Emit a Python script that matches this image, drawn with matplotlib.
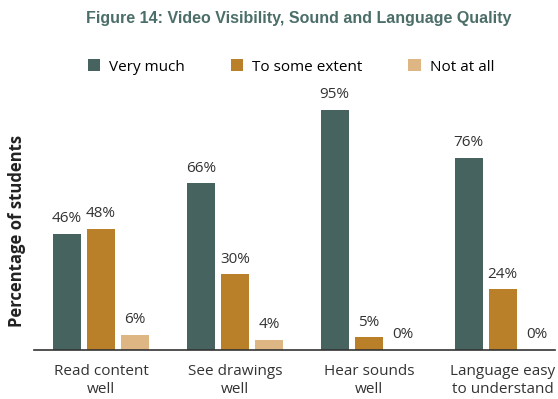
import matplotlib.pyplot as plt
import numpy as np
from matplotlib.patches import Patch

categories = ["Read content\nwell", "See drawings\nwell", "Hear sounds\nwell", "Language easy\nto understand"]
series_names = ["Very much", "To some extent", "Not at all"]
very_much = [46, 66, 95, 76]
some_extent = [48, 30, 5, 24]
not_at_all = [6, 4, 0, 0]

colors = ["#476360", "#BA8029", "#DDB684"]
font = "Open Sans"

fig = plt.figure(figsize=(5.58, 3.99), dpi=100)
W, H = 558, 399
ax = fig.add_axes([34 / W, 1 - 350 / H, (555 - 34) / W, (350 - 97.4) / H])

x = np.arange(len(categories))
width = 0.21
offset = 0.255
for i, (vals, c) in enumerate(zip([very_much, some_extent, not_at_all], colors)):
    pos = x + (i - 1) * offset
    bars = ax.bar(pos, vals, width=width, color=c)
    for b, v in zip(bars, vals):
        ax.text(b.get_x() + b.get_width() / 2, v + 3, f"{v}%", ha="center", va="bottom",
                fontsize=11, family=font, color="#333333")

ax.set_xlim(-0.5, 3.39)
ax.set_ylim(0, 100)
for s in ["top", "right", "left"]:
    ax.spines[s].set_visible(False)
ax.spines["bottom"].set_color("#333333")
ax.spines["bottom"].set_linewidth(1.2)
ax.set_yticks([])
ax.set_xticks(x)
ax.set_xticklabels(categories, fontsize=11, family=font, color="#333333", linespacing=1.25)
ax.tick_params(axis="x", length=0, pad=10)

fig.text(17 / W, 1 - 231 / H, "Percentage of students", rotation=90, ha="center", va="center",
         fontsize=12, fontweight="bold", family=font, color="#222222")

fig.text(299 / W, 1 - 18 / H, "Figure 14: Video Visibility, Sound and Language Quality",
         ha="center", va="center", fontsize=11.5, fontweight="bold", family="Liberation Sans",
         color="#4C6E69")

handles = [Patch(facecolor=c, edgecolor="none") for c in colors]
fig.legend(handles, series_names, loc="center", bbox_to_anchor=(291 / W, 1 - 67 / H), ncol=3,
           frameon=False, handlelength=0.8, handleheight=0.8, handletextpad=0.6,
           columnspacing=3.0, prop={"family": font, "size": 11})

fig.savefig("out.png", dpi=100)
